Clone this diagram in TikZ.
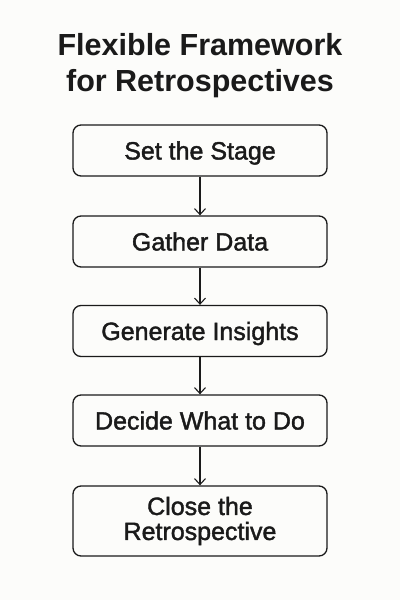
\documentclass[tikz,border=0pt]{standalone}
\usepackage{fontspec}
\setmainfont{Liberation Sans}
\newfontfamily\boxfont{Liberation Sans}[FakeBold=1.6]
\newfontfamily\titlefont{Liberation Sans Bold}
\usetikzlibrary{arrows.meta}
\definecolor{bg}{HTML}{FCFCFA}
\definecolor{ink}{HTML}{1A1A1A}
\begin{document}
\begin{tikzpicture}[x=1pt,y=-1pt,
  stagebox/.style={draw=ink, line width=1.3pt, rounded corners=8pt, minimum width=254pt, inner sep=0pt, align=center, font=\boxfont\fontsize{25}{25}\selectfont, text=ink},
  oneline/.style={text height=18pt, text depth=0pt},
  flowarrow/.style={draw=ink, line width=1.1pt, -{Straight Barb[length=6pt,width=11pt,line width=1.1pt]}}
]
\fill[bg] (0,0) rectangle (400,600);
\useasboundingbox (0,0) rectangle (400,600);
\node[font=\titlefont\fontsize{30.5}{36}\selectfont, text=ink, align=center] (title) at (200,66) {Flexible Framework\\for Retrospectives};
\node[stagebox, oneline, minimum height=51pt] (s1) at (200,150.5) {Set the Stage};
\node[stagebox, oneline, minimum height=51pt] (s2) at (200,241.5) {Gather Data};
\node[stagebox, oneline, minimum height=51pt] (s3) at (200,331) {Generate Insights};
\node[stagebox, oneline, minimum height=51pt] (s4) at (200,420.5) {Decide What to Do};
\node[stagebox, minimum height=70pt] (s5) at (200,521) {Close the\\Retrospective};
\draw[flowarrow] (s1) -- (s2);
\draw[flowarrow] (s2) -- (s3);
\draw[flowarrow] (s3) -- (s4);
\draw[flowarrow] (s4) -- (s5);
\end{tikzpicture}
\end{document}
